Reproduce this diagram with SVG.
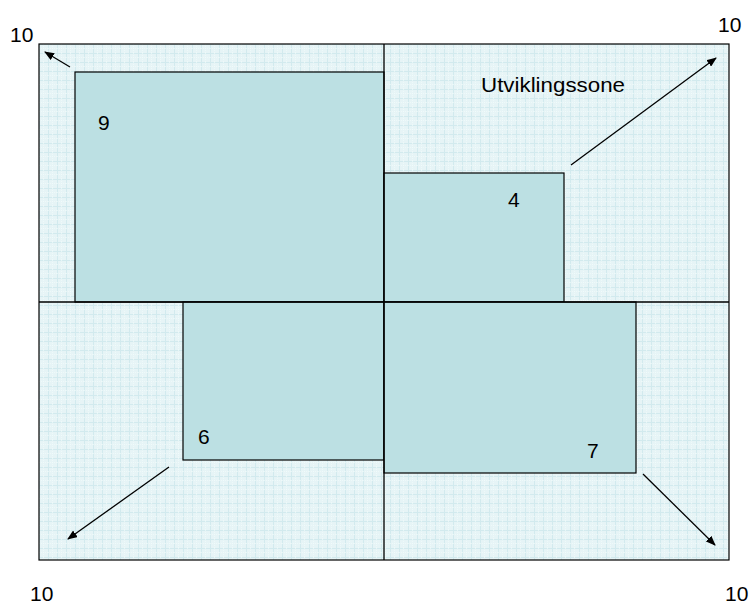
<svg xmlns="http://www.w3.org/2000/svg" width="752" height="604" viewBox="0 0 752 604">
<style>
.t{font-family:"Liberation Sans",Arial,sans-serif;font-size:21px;fill:#000}
.box{fill:#BCE0E3;stroke:#000;stroke-width:1.2}
.ln{stroke:#000;stroke-width:1.3;fill:none}
.ar{stroke:#000;stroke-width:1.3;fill:none;marker-end:url(#ah)}
</style>
<defs>
<pattern id="grid" x="39" y="44" width="9" height="9" patternUnits="userSpaceOnUse">
<rect width="9" height="9" fill="#E6F4F6"/>
<path d="M0 0.5H9M0.5 0V9" stroke="#D2EAEE" stroke-width="1"/>
<path d="M0 4.5H9M4.5 0V9" stroke="#F4FBFC" stroke-width="0.6" stroke-dasharray="1 1"/>
</pattern>
<marker id="ah" markerWidth="10" markerHeight="8" refX="9" refY="4" orient="auto" markerUnits="userSpaceOnUse">
<path d="M0 0L10 4L0 8Z" fill="#000"/>
</marker>
</defs>
<rect x="39" y="44" width="690" height="516" fill="url(#grid)"/>
<g id="box9"><rect class="box" x="75" y="72" width="309" height="230"/><text class="t" x="98" y="130">9</text></g>
<g id="box4"><rect class="box" x="384" y="173" width="180" height="129"/><text class="t" x="508" y="207">4</text></g>
<g id="box6"><rect class="box" x="183" y="302" width="201" height="158"/><text class="t" x="198" y="444">6</text></g>
<g id="box7"><rect class="box" x="384" y="302" width="252" height="171"/><text class="t" x="587" y="458">7</text></g>
<g id="frame"><rect x="39" y="44" width="690" height="516" fill="none" stroke="#000" stroke-width="1.2"/>
<path class="ln" d="M384 44V560M39 302H729"/></g>
<g id="connectors">
<path class="ar" d="M70 67L45 52"/>
<path class="ar" d="M571 165L716 58"/>
<path class="ar" d="M169 467L68 539"/>
<path class="ar" d="M643 474L715 545"/>
</g>
<g id="labels">
<text class="t" x="481" y="92" textLength="144" lengthAdjust="spacingAndGlyphs">Utviklingssone</text>
<text class="t" x="10" y="42">10</text>
<text class="t" x="718" y="32">10</text>
<text class="t" x="30" y="601">10</text>
<text class="t" x="725" y="601">10</text>
</g>
</svg>
